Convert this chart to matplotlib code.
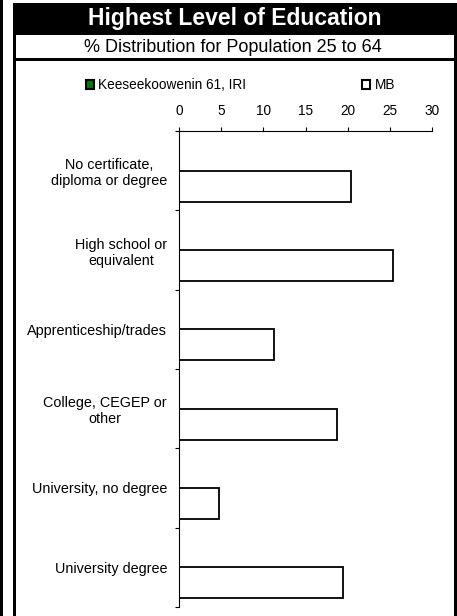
import matplotlib
matplotlib.use('Agg')
import matplotlib.pyplot as plt
from matplotlib.patches import Rectangle, Patch
import numpy as np

plt.rcParams['font.family'] = ['Liberation Sans', 'DejaVu Sans']

# data
categories = ['No certificate,\ndiploma or degree', 'High school or\nequivalent',
              'Apprenticeship/trades', 'College, CEGEP or\nother',
              'University, no degree', 'University degree']
kees_values = [np.nan, np.nan, np.nan, np.nan, np.nan, np.nan]  # not shown
mb_values = [20.4, 25.4, 11.3, 18.7, 4.7, 19.4]
x_ticks = [0, 5, 10, 15, 20, 25, 30]
series_names = ['Keeseekoowenin 61, IRI', 'MB']

W, H = 457, 616
fig = plt.figure(figsize=(W / 100, H / 100), dpi=100)

def fx(px):
    return px / W

def fy(py):
    return 1 - py / H

# outer frame pieces (pixel coords -> figure coords)
def rect(x0, y0, x1, y1, color='black'):
    fig.add_artist(Rectangle((fx(x0), fy(y1)), fx(x1) - fx(x0), fy(y0) - fy(y1),
                             transform=fig.transFigure, facecolor=color,
                             edgecolor='none', zorder=0))

rect(0, 0, 2.5, H)        # thin strip on far left
rect(13, 3, W, 35)        # title bar
rect(13, 3, 16, H)        # left border
rect(454, 3, W, H)        # right border
rect(13, 58, W, 61)       # line under subtitle

fig.text(fx(235), fy(19), 'Highest Level of Education', color='white',
         fontsize=16.5, fontweight='bold', ha='center', va='center')
fig.text(fx(233), fy(47), '% Distribution for Population 25 to 64', color='black',
         fontsize=13, ha='center', va='center')

# plot area
ax = fig.add_axes([fx(179), fy(607), fx(432) - fx(179), fy(131) - fy(607)])
y = np.arange(len(categories))
bh = 0.39
b1 = ax.barh(y - bh / 2, kees_values, height=bh, color='#007a00',
             edgecolor='black', linewidth=1.3)
b2 = ax.barh(y + bh / 2, mb_values, height=bh, color='white',
             edgecolor='black', linewidth=1.3)

ax.set_xlim(0, 30)
ax.set_ylim(len(categories) - 0.5, -0.5)
ax.xaxis.tick_top()
ax.set_xticks(x_ticks)
ax.set_xticklabels([str(t) for t in x_ticks])
ax.tick_params(axis='x', direction='out', length=3, width=0.8, pad=6.3,
               labelsize=9.8, colors='black')
ax.set_yticks(y)
ax.set_yticklabels(categories, ha='right', multialignment='center')
ax.set_yticks(np.arange(len(categories) + 1) - 0.5, minor=True)
ax.tick_params(axis='y', which='major', length=0, pad=8.6, labelsize=10.4)
ax.tick_params(axis='y', which='minor', direction='out', length=3, width=0.8)
for s in ['right', 'bottom']:
    ax.spines[s].set_visible(False)
for s in ['left', 'top']:
    ax.spines[s].set_linewidth(0.8)

# legend, two separate entries like the original
h1 = Patch(facecolor='#007a00', edgecolor='black', linewidth=1.5)
h2 = Patch(facecolor='white', edgecolor='black', linewidth=1.5)
leg1 = fig.legend([h1], [series_names[0]], loc='center left',
                  bbox_to_anchor=(fx(74), fy(85)), frameon=False, fontsize=9.8,
                  handlelength=0.6, handleheight=0.6, handletextpad=0.3)
leg2 = fig.legend([h2], [series_names[1]], loc='center left',
                  bbox_to_anchor=(fx(350), fy(85)), frameon=False, fontsize=9.8,
                  handlelength=0.6, handleheight=0.6, handletextpad=0.3)

fig.savefig('out.png', dpi=100, facecolor='white')
